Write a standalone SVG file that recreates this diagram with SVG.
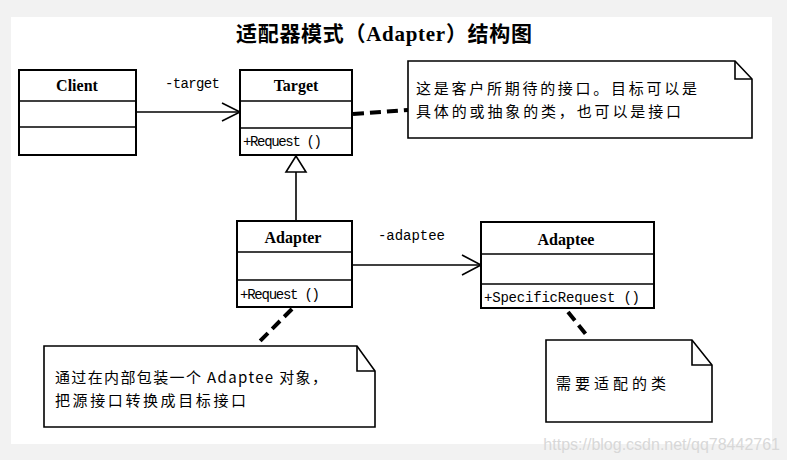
<svg xmlns="http://www.w3.org/2000/svg" width="787" height="460" viewBox="0 0 787 460">
<style>
.box{fill:#fff;stroke:#000;stroke-width:2}
.div{stroke:#000;stroke-width:1.6}
.cls{font-family:"Liberation Serif",serif;font-weight:bold;font-size:16px;text-anchor:middle}
.op{font-family:"Liberation Mono",monospace;font-size:14px}
.lbl{font-family:"Liberation Mono",monospace;font-size:14px}
.note{fill:#fff;stroke:#000;stroke-width:1.6}
.nt{font-family:"Noto Sans CJK SC",sans-serif;font-size:15px}
.line{stroke:#000;stroke-width:1.6;fill:none}
.dash{stroke:#000;stroke-width:4;stroke-dasharray:11 6;fill:none}
</style>
<rect x="0" y="0" width="787" height="460" fill="#f2f2f2"/>
<rect x="11" y="17" width="761" height="427" fill="#fff"/>
<text x="384" y="41" font-family="'Liberation Serif','Noto Sans CJK SC',serif" font-weight="bold" font-size="21" text-anchor="middle" textLength="296">适配器模式（Adapter）结构图</text>

<g id="connectors">
<line class="line" x1="136" y1="112" x2="239" y2="112"/>
<polyline class="line" points="222,103 240,112 222,121"/>
<text class="lbl" x="165" y="88" textLength="55">-target</text>
<line class="line" x1="296" y1="172" x2="296" y2="221"/>
<polygon points="296,156 286,172 306,172" fill="#fff" stroke="#000" stroke-width="1.6"/>
<line class="line" x1="352" y1="265" x2="480" y2="265"/>
<polyline class="line" points="462,255 481,265 462,275"/>
<text class="lbl" x="378" y="240" textLength="67">-adaptee</text>
<line class="dash" x1="353" y1="114" x2="408" y2="110"/>
<line class="dash" x1="292" y1="309" x2="256" y2="345"/>
<line class="dash" x1="568" y1="312" x2="588" y2="337"/>
</g>

<g id="client">
<rect class="box" x="19" y="70" width="117" height="85"/>
<line class="div" x1="19" y1="101" x2="136" y2="101"/>
<line class="div" x1="19" y1="127" x2="136" y2="127"/>
<text class="cls" x="77" y="91">Client</text>
</g>

<g id="target">
<rect class="box" x="240" y="70" width="112" height="85"/>
<line class="div" x1="240" y1="101" x2="352" y2="101"/>
<line class="div" x1="240" y1="128" x2="352" y2="128"/>
<text class="cls" x="296" y="91">Target</text>
<text class="op" x="243" y="146" textLength="79">+Request ()</text>
</g>

<g id="adapter">
<rect class="box" x="237" y="221" width="115" height="86"/>
<line class="div" x1="237" y1="252" x2="352" y2="252"/>
<line class="div" x1="237" y1="280" x2="352" y2="280"/>
<text class="cls" x="293" y="243">Adapter</text>
<text class="op" x="240" y="299" textLength="80">+Request ()</text>
</g>

<g id="adaptee">
<rect class="box" x="481" y="222" width="173" height="86"/>
<line class="div" x1="481" y1="254" x2="654" y2="254"/>
<line class="div" x1="481" y1="284" x2="654" y2="284"/>
<text class="cls" x="566" y="245">Adaptee</text>
<text class="op" x="484" y="302" textLength="156">+SpecificRequest ()</text>
</g>

<g id="note-target">
<path class="note" d="M408,61 L735,61 L752,79 L752,138 L408,138 Z"/>
<polyline class="line" points="735,61 735,79 752,79"/>
<text class="nt" x="416" y="94" textLength="281">这是客户所期待的接口。目标可以是</text>
<text class="nt" x="416" y="117" textLength="265">具体的或抽象的类，也可以是接口</text>
</g>

<g id="note-adapter">
<path class="note" d="M44,346 L357,346 L375,371 L375,427 L44,427 Z"/>
<polyline class="line" points="357,346 357,371 375,371"/>
<text class="nt" x="55" y="383" textLength="272">通过在内部包装一个 Adaptee 对象，</text>
<text class="nt" x="55" y="406" textLength="191">把源接口转换成目标接口</text>
</g>

<g id="note-adaptee">
<path class="note" d="M546,340 L692,340 L712,365 L712,422 L546,422 Z"/>
<polyline class="line" points="692,340 692,365 712,365"/>
<text class="nt" x="556" y="389" textLength="110">需要适配的类</text>
</g>

<text x="780" y="450" font-family="'Liberation Sans',sans-serif" font-size="16" fill="#d8d8d8" text-anchor="end">https://blog.csdn.net/qq78442761</text>
</svg>
